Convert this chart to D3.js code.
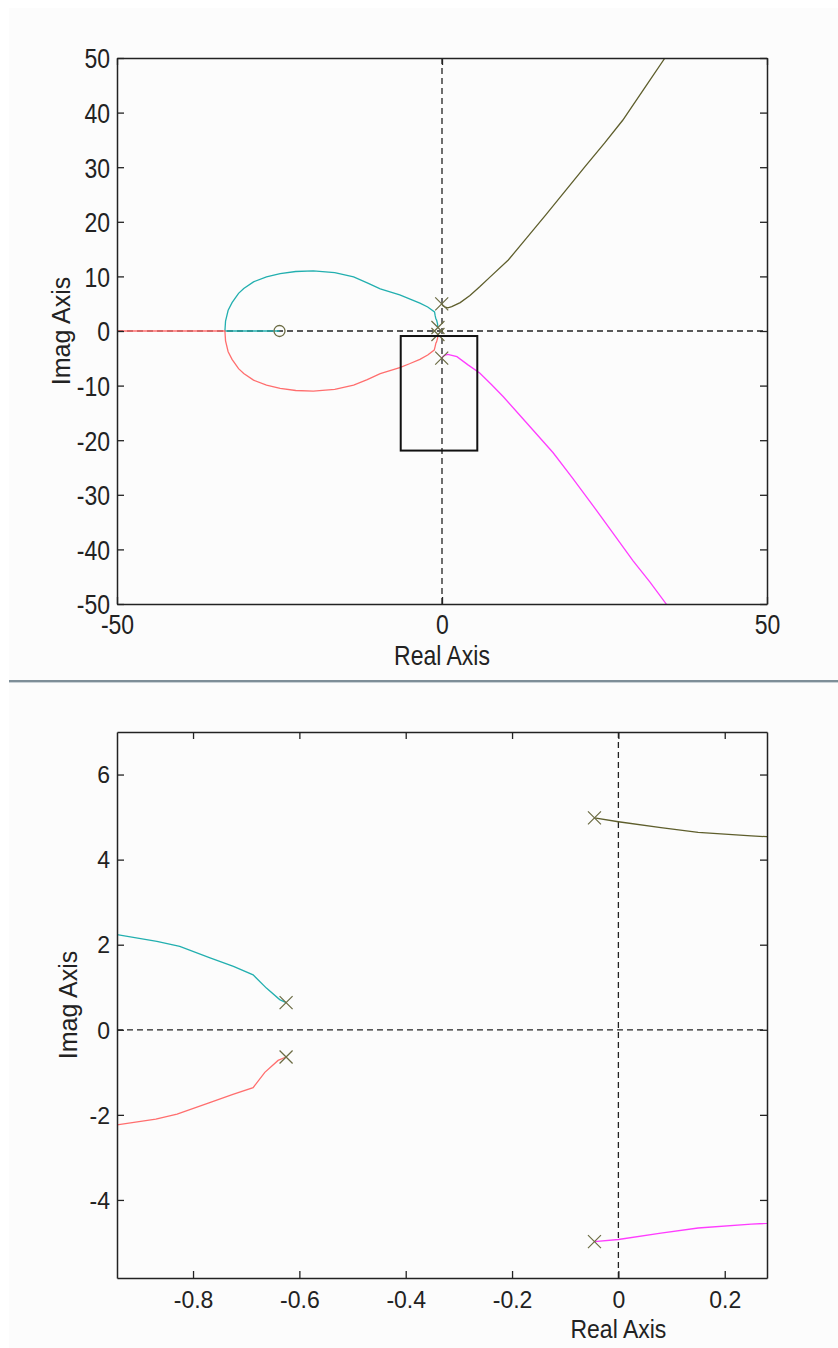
<!DOCTYPE html>
<meta charset="utf-8">
<style>
body { margin: 0; background: #fff; }
text { font-family: "Liberation Sans", Arial, sans-serif; }
</style>
<svg width="838" height="1348"></svg>
<script src="https://d3js.org/d3.v7.min.js"></script>
<script>

// open-loop poles and zero
var poles = [[-0.045, 4.98], [-0.045, -4.98], [-0.625, 0.64], [-0.625, -0.64]];
var zeros = [[-25, 0]];

// locus branches
var oliveBranch = [[-0.045,4.98],[0,4.89],[0.08,4.75],[0.15,4.64],[0.25,4.56],[0.5,4.38],[0.9,4.25],
  [1.5,4.45],[2.8,5.2],[4.3,6.5],[5.8,8.1],[7.5,10],[10.2,13],[13,17],[16,21.3],[19,25.7],[22,30.1],
  [25,34.4],[27.8,38.6],[31,44.2],[34.3,50],[36,53]];
var magentaBranch = [[-0.045,-4.98],[0,-4.93],[0.08,-4.78],[0.15,-4.66],[0.25,-4.57],[0.5,-4.4],[0.9,-4.3],
  [2.3,-4.7],[4,-6.2],[5.8,-7.7],[7.6,-9.8],[9.4,-12],[13,-16.8],[17.1,-22.3],[20,-26.8],[23,-31.6],
  [26,-36.5],[29.4,-42.1],[32,-46],[34.5,-50],[36,-53]];
var tealBranch = [[-0.625,0.64],[-0.637,0.71],[-0.662,0.98],[-0.687,1.29],[-0.724,1.49],[-0.768,1.69],
  [-0.825,1.96],[-0.868,2.08],[-0.943,2.235],[-1.05,2.8],[-1.15,3.5],[-2.2,4.4],[-3.4,5.1],[-5,5.9],
  [-6.5,6.6],[-9.5,7.7],[-11.5,8.8],[-13.6,9.9],[-16.5,10.7],[-19.8,11.0],[-22.5,10.9],[-24.9,10.5],
  [-27,9.9],[-29,9.0],[-30.5,7.8],[-31.3,6.9],[-32.3,5.2],[-32.9,3.8],[-33.3,1.8],[-33.4,0],[-29,0],[-25,0]];
var redBranch = [[-0.625,-0.64],[-0.64,-0.72],[-0.665,-1.0],[-0.687,-1.36],[-0.725,-1.52],[-0.77,-1.72],
  [-0.83,-1.98],[-0.87,-2.1],[-0.943,-2.235],[-1.05,-2.8],[-1.2,-3.5],[-2.2,-4.4],[-3.4,-5.2],[-5,-6],
  [-6.5,-6.7],[-9.5,-7.8],[-11.5,-8.9],[-13.6,-9.9],[-16.5,-10.7],[-19.8,-11.0],[-22.5,-10.9],[-24.9,-10.5],
  [-27,-9.9],[-29,-9.0],[-30.5,-7.8],[-31.3,-6.9],[-32.3,-5.2],[-32.9,-3.8],[-33.3,-1.8],[-33.4,0],[-45,0],[-60,0]];

var branches = [
  {pts: tealBranch, color: "#22afaf"},
  {pts: redBranch, color: "#ff6e6e"},
  {pts: oliveBranch, color: "#5e5e2c"},
  {pts: magentaBranch, color: "#ff3cff"}
];

// zoom rectangle drawn on the full view [x0, y0, x1, y1]
var zoomBox = [-6.35, -0.92, 5.43, -21.9];

var topXTicks = [-50, 0, 50],
    topYTicks = [-50, -40, -30, -20, -10, 0, 10, 20, 30, 40, 50],
    botXTicks = [-0.8, -0.6, -0.4, -0.2, 0, 0.2],
    botYTicks = [-4, -2, 0, 2, 4, 6];

var svg = d3.select("svg");

svg.append("rect").attr("x", 9).attr("y", 8).attr("width", 829).attr("height", 1340).attr("fill", "#fcfcfc");
svg.append("rect").attr("x", 9).attr("y", 680).attr("width", 829).attr("height", 2).attr("fill", "#7e8e98");
svg.append("rect").attr("x", 9).attr("y", 682).attr("width", 829).attr("height", 1).attr("fill", "#c9d1d6");

var fmt = function(d) { return (+d.toFixed(1)).toString(); };

function panel(o) {
  var left = 117, right = 767;
  var x = d3.scaleLinear().domain(o.xDomain).range([left, right]),
      y = d3.scaleLinear().domain(o.yDomain).range([o.bottom, o.top]);
  var g = svg.append("g");

  var clipId = "clip" + o.top;
  g.append("clipPath").attr("id", clipId).append("rect")
    .attr("x", left).attr("y", o.top).attr("width", right - left).attr("height", o.bottom - o.top);

  var plot = g.append("g").attr("clip-path", "url(#" + clipId + ")");

  // dashed axes through the origin
  plot.append("line").attr("x1", x(0)).attr("x2", x(0)).attr("y1", o.top).attr("y2", o.bottom)
    .attr("stroke", "#222").attr("stroke-width", 1.3).attr("stroke-dasharray", "6,4");
  plot.append("line").attr("x1", left).attr("x2", right).attr("y1", y(0)).attr("y2", y(0))
    .attr("stroke", "#222").attr("stroke-width", 1.3).attr("stroke-dasharray", "6,4");

  var line = d3.line().x(function(d) { return x(d[0]); }).y(function(d) { return y(d[1]); });
  plot.selectAll(".branch").data(branches).enter().append("path")
    .attr("class", "branch")
    .attr("d", function(d) { return line(d.pts); })
    .attr("fill", "none")
    .attr("stroke", function(d) { return d.color; })
    .attr("stroke-width", 1.3);

  var s = 6.5;
  plot.selectAll(".pole").data(poles).enter().append("path")
    .attr("class", "pole")
    .attr("d", function(d) {
      var px = x(d[0]), py = y(d[1]);
      return "M" + (px - s) + "," + (py - s) + "L" + (px + s) + "," + (py + s) +
             "M" + (px + s) + "," + (py - s) + "L" + (px - s) + "," + (py + s);
    })
    .attr("stroke", "#6c6c44").attr("stroke-width", 1.2).attr("fill", "none");

  plot.selectAll(".zero").data(zeros).enter().append("circle")
    .attr("class", "zero")
    .attr("cx", function(d) { return x(d[0]); })
    .attr("cy", function(d) { return y(d[1]); })
    .attr("r", 5.5)
    .attr("stroke", "#6c6c44").attr("stroke-width", 1.3).attr("fill", "none");

  if (o.box) {
    plot.append("rect")
      .attr("x", x(o.box[0])).attr("y", y(o.box[1]))
      .attr("width", x(o.box[2]) - x(o.box[0])).attr("height", y(o.box[3]) - y(o.box[1]))
      .attr("fill", "none").attr("stroke", "#111").attr("stroke-width", 2);
  }

  // axes, ticks pointing inward on all four sides
  var cap = 23 * 0.716 * o.sy;
  var gx = g.append("g").attr("transform", "translate(0," + o.bottom + ")")
    .call(d3.axisBottom(x).tickValues(o.xTicks).tickSizeInner(-7).tickSizeOuter(0).tickFormat(fmt));
  var gy = g.append("g").attr("transform", "translate(" + left + ",0)")
    .call(d3.axisLeft(y).tickValues(o.yTicks).tickSizeInner(-7).tickSizeOuter(0).tickFormat(fmt));
  var gt = g.append("g").attr("transform", "translate(0," + o.top + ")")
    .call(d3.axisTop(x).tickValues(o.xTicks).tickSizeInner(-7).tickSizeOuter(0).tickFormat(""));
  var gr = g.append("g").attr("transform", "translate(" + right + ",0)")
    .call(d3.axisRight(y).tickValues(o.yTicks).tickSizeInner(-7).tickSizeOuter(0).tickFormat(""));

  [gx, gy, gt, gr].forEach(function(a) {
    a.attr("color", "#222");
    a.select(".domain").attr("stroke-width", 1.5);
    a.selectAll(".tick line").attr("stroke-width", 1.3);
  });

  gx.selectAll(".tick text")
    .attr("y", null).attr("dy", null)
    .attr("transform", "translate(0," + o.xTickBase + ") scale(1," + o.sy + ")")
    .style("font-size", "23px").attr("fill", "#222");
  gy.selectAll(".tick text")
    .attr("x", null).attr("dy", null)
    .attr("transform", "translate(-7," + (cap / 2) + ") scale(1," + o.sy + ")")
    .style("font-size", "23px").attr("fill", "#222");

  g.append("text")
    .attr("transform", "translate(" + x(0) + "," + (o.bottom + o.xLabelBase) + ") scale(1," + o.xsy + ")")
    .attr("text-anchor", "middle").style("font-size", "23px").attr("fill", "#222")
    .text("Real Axis");
  g.append("text")
    .attr("transform", "translate(" + o.yLabelX + "," + ((o.top + o.bottom) / 2) + ") rotate(-90)")
    .attr("text-anchor", "middle").style("font-size", "25px").attr("fill", "#222")
    .text("Imag Axis");
}

panel({
  top: 58, bottom: 604,
  xDomain: [-50, 50], yDomain: [-50, 50],
  xTicks: topXTicks, yTicks: topYTicks,
  sy: 1.2, xsy: 1.2, xTickBase: 30, xLabelBase: 61, yLabelX: 70,
  box: zoomBox
});

panel({
  top: 732, bottom: 1278,
  xDomain: [-0.943, 0.2795], yDomain: [-5.835, 7.0],
  xTicks: botXTicks, yTicks: botYTicks,
  sy: 1.0, xsy: 1.1, xTickBase: 30, xLabelBase: 60, yLabelX: 77
});

</script>
